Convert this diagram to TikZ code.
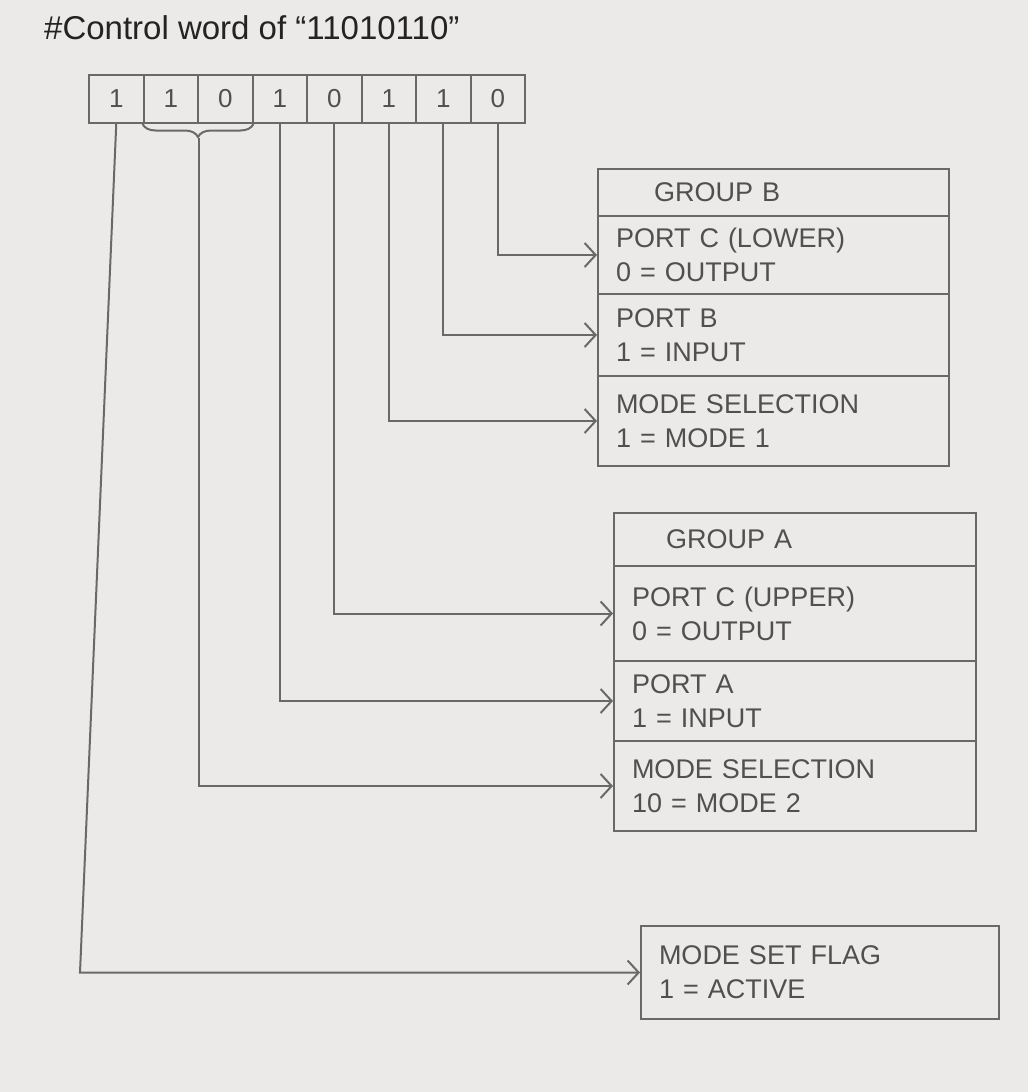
\documentclass[tikz,border=0pt]{standalone}
\usepackage{fontspec}
\setmainfont{Liberation Sans}
\usetikzlibrary{arrows.meta,decorations.pathreplacing,calc}
\definecolor{paper}{RGB}{236,234,232}
\definecolor{pencil}{RGB}{105,105,105}
\definecolor{ink}{RGB}{80,80,80}
\definecolor{pen}{RGB}{35,35,35}
\begin{document}
\begin{tikzpicture}[x=1pt,y=-1pt,
  pline/.style={draw=pencil, line width=2pt},
  arr/.style={pline, -{Straight Barb[length=11pt,width=24pt,line width=2pt]}},
  bitcell/.style={pline, minimum width=54.5pt, minimum height=48pt, anchor=north west, inner sep=0pt, text=ink, font=\fontsize{26}{30}\selectfont},
  rowbase/.style={pline, anchor=north west, align=left, inner xsep=18pt, inner ysep=0pt, text=ink, font=\fontsize{27}{34}\selectfont},
  rowB/.style={rowbase, text width=315pt},
  rowA/.style={rowbase, text width=326pt},
  rowF/.style={rowbase, text width=322pt}
]
\fill[paper] (0,0) rectangle (1028,1092);
\useasboundingbox (0,0) rectangle (1028,1092);

% title
\node[anchor=west, text=pen, font=\fontsize{33}{36}\selectfont, inner sep=0pt] (title) at (44,28) {\#Control word of ``11010110''};

% bit cells
\foreach \v [count=\i from 0] in {1,1,0,1,0,1,1,0}
  \node[bitcell] (b\i) at ({88+54.5*\i},74) {\v};

% brace under bits 1-2
\draw[pline, decorate, decoration={brace, amplitude=13pt}] (b2.south east) -- (b1.south west);
\coordinate (brtip) at ($(b1.south east)+(0,14)$);

% Group B
\node[rowB, minimum height=47pt] (Bt) at (597,168) {\hspace*{38pt}GROUP B};
\node[rowB, minimum height=78pt] (B1) at (597,215) {PORT C (LOWER)\\0 = OUTPUT};
\node[rowB, minimum height=82pt] (B2) at (597,293) {PORT B\\1 = INPUT};
\node[rowB, minimum height=90pt] (B3) at (597,375) {MODE SELECTION\\1 = MODE 1};

% Group A
\node[rowA, minimum height=53pt] (At) at (613,512) {\hspace*{34pt}GROUP A};
\node[rowA, minimum height=95pt] (A1) at (613,565) {PORT C (UPPER)\\0 = OUTPUT};
\node[rowA, minimum height=80pt] (A2) at (613,660) {PORT A\\1 = INPUT};
\node[rowA, minimum height=90pt] (A3) at (613,740) {MODE SELECTION\\10 = MODE 2};

% Mode set flag
\node[rowF, minimum height=93pt] (F) at (640,925) {MODE SET FLAG\\1 = ACTIVE};

% connectors
\draw[arr] (b7.south) |- (B1.west);
\draw[arr] (b6.south) |- (B2.west);
\draw[arr] (b5.south) |- (B3.west);
\draw[arr] (b4.south) |- (A1.west);
\draw[arr] (b3.south) |- (A2.west);
\draw[arr] (brtip) |- (A3.west);
\coordinate (c0) at (80,0);
\draw[arr] (b0.south) -- (c0 |- F.west) -- (F.west);
\end{tikzpicture}
\end{document}
